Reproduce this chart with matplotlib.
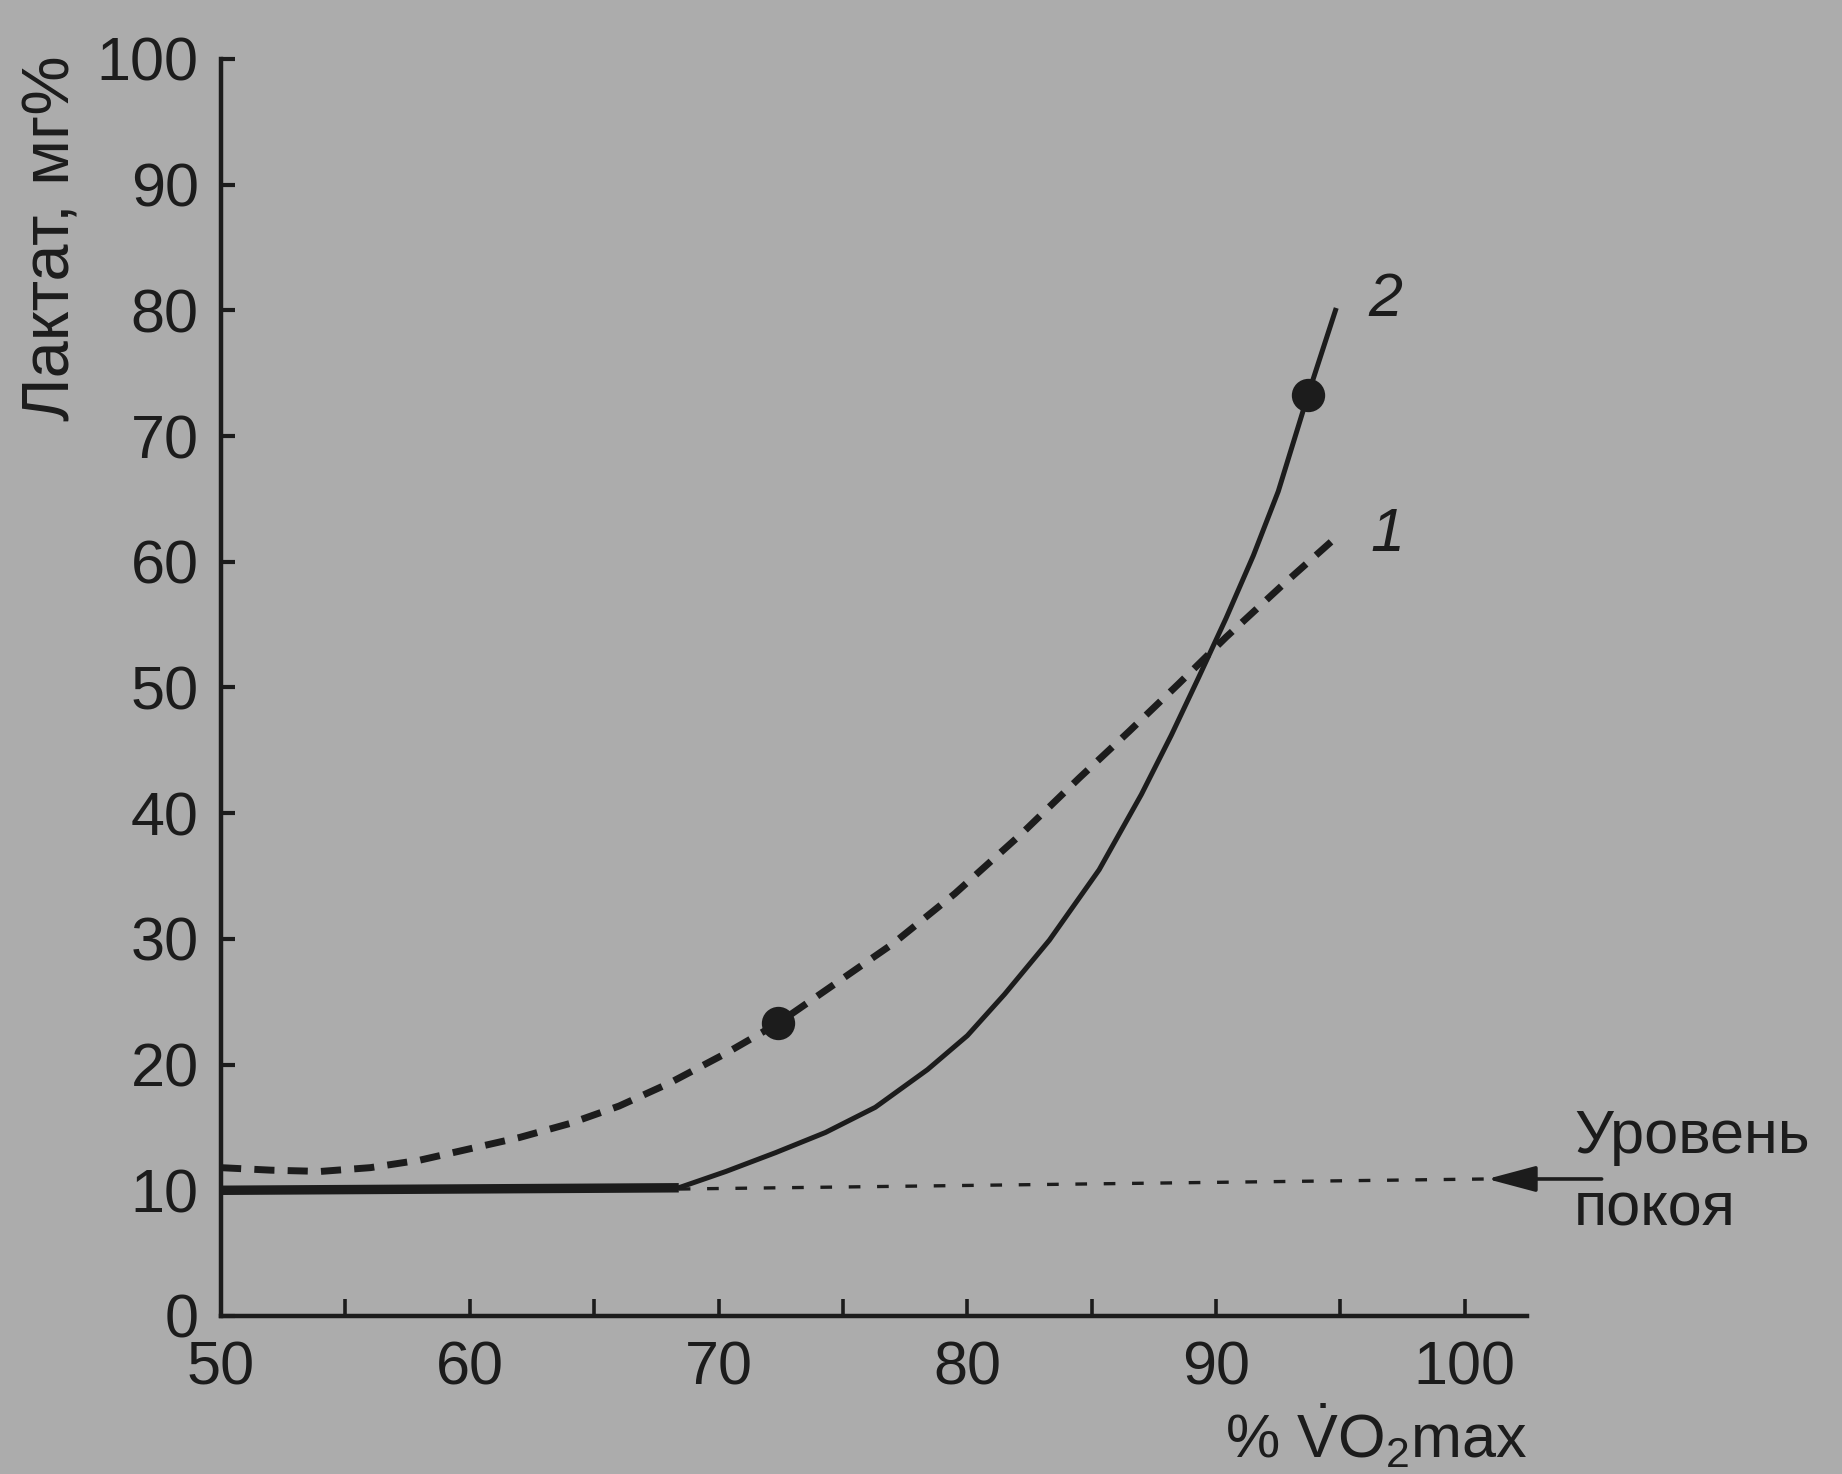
import numpy as np
import matplotlib
matplotlib.use('Agg')
import matplotlib.pyplot as plt

# кривая 1 (пунктир) и кривая 2 (сплошная), лактат мг% против % VO2max
x1 = [50, 52, 54, 56, 58, 60, 62, 64, 66, 68, 70.3, 72.4, 74.3, 77, 79.5, 82.2, 84.5, 86.5, 88.5, 90.4, 92.7, 94.8]
y1 = [11.8, 11.6, 11.5, 11.8, 12.4, 13.3, 14.2, 15.3, 16.7, 18.5, 20.9, 23.3, 25.9, 29.6, 33.6, 38.4, 42.8, 46.5, 50.3, 54.0, 58.2, 61.9]
x2 = [50, 68.4, 70.3, 72.3, 74.3, 76.3, 78.4, 80.0, 81.5, 83.3, 85.3, 87.0, 88.2, 89.3, 90.4, 91.5, 92.5, 93.7, 94.8]
y2 = [10, 10.2, 11.5, 13.0, 14.6, 16.6, 19.6, 22.3, 25.6, 29.9, 35.5, 41.5, 46.2, 50.8, 55.5, 60.5, 65.6, 73.3, 80.0]
tochki_x = [72.4, 93.7]
tochki_y = [23.3, 73.3]
pokoj_x = [68.4, 100.9]
pokoj_y = [10.1, 10.9]
xticks = [50, 60, 70, 80, 90, 100]
xminor = [55, 65, 75, 85, 95]
yticks = list(range(0, 101, 10))

fon = '#acacac'
chern = '#1c1c1c'

plt.rcParams['font.family'] = ['Liberation Sans', 'DejaVu Sans']
plt.rcParams['font.size'] = 22
plt.rcParams['mathtext.fontset'] = 'custom'
plt.rcParams['mathtext.rm'] = 'Liberation Sans'
plt.rcParams['mathtext.it'] = 'Liberation Sans:italic'

fig = plt.figure(figsize=(9.21, 7.37), dpi=200, facecolor=fon)
ax = fig.add_axes([0.120, 0.1072, 0.709, 0.8528])
ax.set_facecolor(fon)

ax.plot(x1, y1, color=chern, lw=2.5, dashes=(2.9, 1.9), solid_capstyle='butt')
ax.plot(x2, y2, color=chern, lw=1.8, solid_joinstyle='round')
ax.plot(x2[:2], y2[:2], color=chern, lw=3.4, solid_capstyle='butt')
ax.plot(pokoj_x, pokoj_y, color=chern, lw=1.2, dashes=(3.5, 5))
ax.plot(tochki_x, tochki_y, 'o', color=chern, ms=11)

ax.annotate('', xy=(pokoj_x[1], pokoj_y[1]), xytext=(105.5, pokoj_y[1]),
            arrowprops=dict(arrowstyle='-|>,head_length=0.6,head_width=0.16',
                            color=chern, lw=1.3, mutation_scale=25, shrinkA=0, shrinkB=0),
            annotation_clip=False)

ax.text(96.8, 80.8, '2', style='italic', ha='center', va='center', color=chern)
ax.text(96.9, 62.1, '1', style='italic', ha='center', va='center', color=chern)

ax.set_xlim(50, 102.5)
ax.set_ylim(0, 100)
for s in ['top', 'right']:
    ax.spines[s].set_visible(False)
for s in ['left', 'bottom']:
    ax.spines[s].set_linewidth(1.6)
    ax.spines[s].set_color(chern)

ax.set_xticks(xticks)
ax.set_xticks(xminor, minor=True)
ax.set_yticks(yticks)
ax.tick_params(axis='x', which='both', direction='in', length=6, width=1.3, pad=9, colors=chern)
ax.tick_params(axis='y', direction='in', length=5, width=1.5, pad=8, colors=chern)

fig.text(52 / 1842, 1 - 238 / 1474, 'Лактат, мг%', rotation=90, ha='center', va='center',
         color=chern, fontsize=24)
fig.text(0.829, 0.025, r'% $\dot{\mathrm{V}}\mathrm{O}_2$max', ha='right', va='center', color=chern)
fig.text(0.8545, 0.2286, 'Уровень', ha='left', va='center', color=chern)
fig.text(0.8545, 0.179, 'покоя', ha='left', va='center', color=chern)

plt.savefig('out.png', dpi=200, facecolor=fon)
